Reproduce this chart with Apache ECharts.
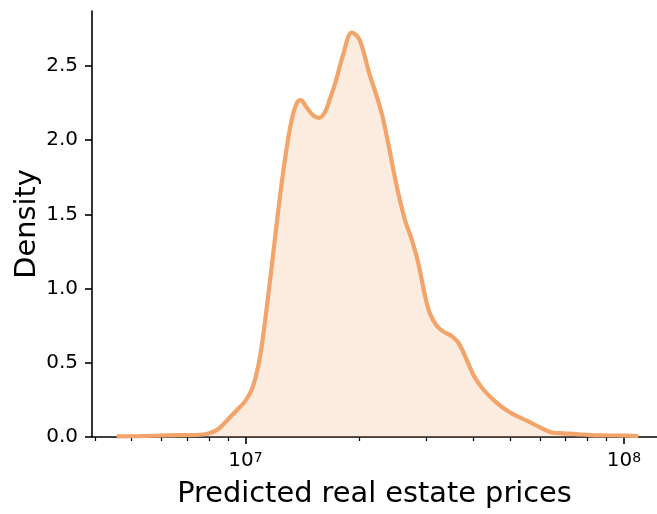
<!DOCTYPE html>
<html>
<head>
<meta charset="utf-8">
<script src="https://cdn.jsdelivr.net/npm/echarts@6/dist/echarts.min.js"></script>
<style>
html,body{margin:0;padding:0;background:#fff;}
#chart{width:657px;height:514px;}
</style>
</head>
<body>
<div id="chart"></div>
<script>
// Data
const prices = [4.567e6, 5.263e6, 6.19e6, 7.58e6, 8.06e6, 8.48e6, 8.92e6, 9.48e6, 9.97e6, 1.039e7,
  1.070e7, 1.097e7, 1.126e7, 1.173e7, 1.209e7, 1.246e7, 1.285e7, 1.325e7, 1.366e7, 1.399e7,
  1.451e7, 1.511e7, 1.564e7, 1.622e7, 1.672e7, 1.724e7, 1.813e7, 1.908e7, 1.986e7, 2.048e7,
  2.111e7, 2.199e7, 2.290e7, 2.384e7, 2.458e7, 2.534e7, 2.639e7, 2.749e7, 2.861e7, 2.980e7,
  3.072e7, 3.200e7, 3.331e7, 3.506e7, 3.650e7, 3.802e7, 3.998e7, 4.249e7, 4.610e7, 4.997e7,
  5.534e7, 5.999e7, 6.442e7, 6.913e7, 7.499e7, 8.131e7, 9.000e7, 1.017e8, 1.091e8];
const density = [0.004, 0.006, 0.011, 0.015, 0.027, 0.054, 0.11, 0.18, 0.24, 0.32,
  0.43, 0.57, 0.78, 1.15, 1.44, 1.71, 1.95, 2.14, 2.25, 2.27,
  2.22, 2.165, 2.15, 2.19, 2.28, 2.38, 2.58, 2.725, 2.69, 2.60,
  2.47, 2.33, 2.18, 1.975, 1.80, 1.64, 1.46, 1.33, 1.17, 0.95,
  0.83, 0.75, 0.71, 0.68, 0.635, 0.545, 0.42, 0.32, 0.23, 0.165,
  0.11, 0.065, 0.03, 0.025, 0.02, 0.013, 0.011, 0.009, 0.006];
const xMajorTicks = [1e7, 1e8];
const xMinorTicks = [4e6, 5e6, 6e6, 7e6, 8e6, 9e6, 2e7, 3e7, 4e7, 5e7, 6e7, 7e7, 8e7, 9e7];
const yTicks = [0, 0.5, 1.0, 1.5, 2.0, 2.5];
const xTitle = 'Predicted real estate prices';
const yTitle = 'Density';

const FONT = 'DejaVu Sans';
const xMin = 3.93e6, xMax = 1.222e8;

const chart = echarts.init(document.getElementById('chart'), null, {renderer: 'canvas'});
chart.setOption({
  animation: false,
  backgroundColor: '#ffffff',
  grid: {left: 92, right: 0, top: 11, bottom: 76, containLabel: false},
  xAxis: [{
    type: 'log', logBase: 10, min: xMin, max: xMax, position: 'bottom',
    name: xTitle, nameLocation: 'middle', nameGap: 43,
    nameTextStyle: {fontFamily: FONT, fontSize: 28.8, color: '#000'},
    axisLine: {show: true, lineStyle: {color: '#000', width: 1.6}},
    axisTick: {show: true, customValues: xMajorTicks, length: 7, lineStyle: {color: '#000', width: 1.6}},
    axisLabel: {
      show: true, customValues: xMajorTicks, margin: 14,
      formatter: function (v) { return '{b|10}{s|' + Math.round(Math.log10(v)) + '}'; },
      rich: {
        b: {fontFamily: FONT, fontSize: 20, color: '#000'},
        s: {fontFamily: FONT, fontSize: 14, color: '#000', verticalAlign: 'top'}
      }
    },
    splitLine: {show: false}
  }, {
    type: 'log', logBase: 10, min: xMin, max: xMax, position: 'bottom',
    axisLine: {show: false},
    axisTick: {show: true, customValues: xMinorTicks, length: 4, lineStyle: {color: '#000', width: 1.2}},
    axisLabel: {show: false},
    splitLine: {show: false}
  }],
  yAxis: {
    type: 'value', min: 0, max: 2.87,
    name: yTitle, nameLocation: 'middle', nameGap: 50, nameRotate: 90,
    nameMoveOverlap: false,
    nameTextStyle: {fontFamily: FONT, fontSize: 28.8, color: '#000'},
    axisLine: {show: true, lineStyle: {color: '#000', width: 1.6}},
    axisTick: {show: true, customValues: yTicks, length: 7, lineStyle: {color: '#000', width: 1.6}},
    axisLabel: {
      show: true, customValues: yTicks, margin: 14,
      fontFamily: FONT, fontSize: 20, color: '#000',
      formatter: function (v) { return v.toFixed(1); }
    },
    splitLine: {show: false}
  },
  series: [{
    type: 'line',
    xAxisIndex: 0,
    data: prices.map((p, i) => [p, density[i]]),
    showSymbol: false,
    smooth: 0.35,
    lineStyle: {color: '#F2A46A', width: 4.2},
    areaStyle: {color: 'rgba(242,164,106,0.3)', origin: 'start'},
    z: 3
  }]
});
</script>
</body>
</html>
